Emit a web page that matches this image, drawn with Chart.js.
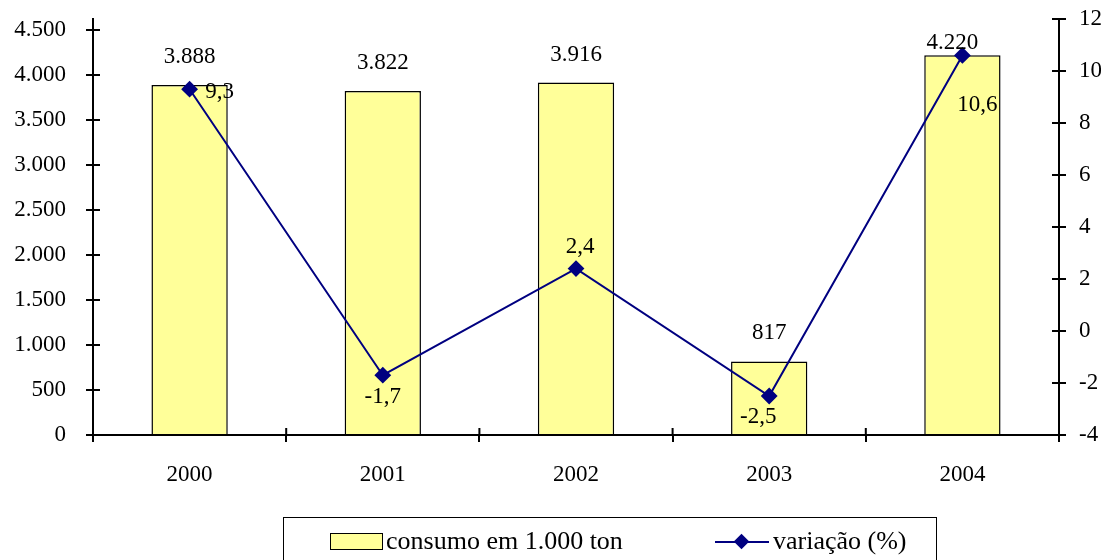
<!DOCTYPE html>
<html lang="pt">
<head>
<meta charset="UTF-8">
<title>Consumo e variação</title>
<script src="https://cdn.jsdelivr.net/npm/chart.js"></script>
<style>
    html, body { margin: 0; padding: 0; background: #fff; overflow: hidden; }
    #wrap { position: relative; width: 1101px; height: 560px; }
    #legend {
        position: absolute; left: 283px; top: 517px; width: 652px; height: 60px;
        border: 1.5px solid #000; font-family: "Liberation Serif", serif; font-size: 26px; color: #000;
    }
    #legend .item { position: absolute; top: 9px; height: 28px; line-height: 28px; white-space: nowrap; }
    #legend .swatch { display: inline-block; width: 51px; height: 15px; border: 1.5px solid #000; vertical-align: -1px; margin-right: 3px; }
    #legend .linekey { display: inline-block; position: relative; width: 54px; height: 14px; vertical-align: 0px; margin-right: 4px; }
    #legend .linekey .bar { position: absolute; left: 0; right: 0; top: 6px; height: 2px; }
    #legend .linekey .dot { position: absolute; left: 21px; top: 1px; width: 11px; height: 11px; transform: rotate(45deg); }
</style>
</head>
<body>
<div id="wrap">
    <canvas id="chart" width="1101" height="560"></canvas>
    <div id="legend"></div>
</div>
<script>
    const years = ["2000", "2001", "2002", "2003", "2004"];
    const consumo = [3888, 3822, 3916, 817, 4220];
    const variacao = [9.3, -1.7, 2.4, -2.5, 10.6];
    const leftTicks = [0, 500, 1000, 1500, 2000, 2500, 3000, 3500, 4000, 4500];

    const FONT = "Liberation Serif";
    const SIZE = 23;

    // label offsets from each mark, in px
    const barLabelOffset = [[0, -28], [0, -28], [0, -28], [0, -29], [-10, -12]];
    const lineLabelOffset = [[30, 3], [0, 22], [4, -22], [-11, 21], [15, 50]];

    function fmt(v) {
        return String(v).replace(/\B(?=(\d{3})+(?!\d))/g, ".");
    }

    const valueLabels = {
        id: "valueLabels",
        afterDatasetsDraw(chart) {
            const ctx = chart.ctx;
            ctx.save();
            ctx.font = SIZE + "px " + FONT;
            ctx.fillStyle = "#000";
            ctx.textAlign = "center";
            ctx.textBaseline = "middle";
            chart.getDatasetMeta(1).data.forEach((el, i) => {
                const o = barLabelOffset[i];
                ctx.fillText(fmt(consumo[i]), el.x + o[0], el.y + o[1]);
            });
            chart.getDatasetMeta(0).data.forEach((el, i) => {
                const o = lineLabelOffset[i];
                ctx.fillText(String(variacao[i]).replace(".", ","), el.x + o[0], el.y + o[1]);
            });
            ctx.restore();
        }
    };

    // tick marks that cross the axis lines
    const crossTicks = {
        id: "crossTicks",
        afterDraw(chart) {
            const { ctx, chartArea: a, scales } = chart;
            const len = 7;
            ctx.save();
            ctx.strokeStyle = "#000";
            ctx.lineWidth = 2;
            ctx.beginPath();
            scales.y.ticks.forEach(t => {
                const y = scales.y.getPixelForValue(t.value);
                ctx.moveTo(a.left, y); ctx.lineTo(a.left + len, y);
            });
            scales.y2.ticks.forEach(t => {
                const y = scales.y2.getPixelForValue(t.value);
                ctx.moveTo(a.right - len, y); ctx.lineTo(a.right, y);
            });
            for (let i = 0; i <= years.length; i++) {
                const x = scales.x.getPixelForValue(i - 0.5);
                ctx.moveTo(x, a.bottom - len); ctx.lineTo(x, a.bottom);
            }
            ctx.stroke();
            ctx.restore();
        }
    };

    const axisGrid = { display: true, drawOnChartArea: false, drawTicks: true, tickLength: 7, color: "#000", lineWidth: 2 };
    const axisBorder = { color: "#000", width: 2 };

    // vertical axes: fixed width, no extra room for the end labels
    function fixWidth(w) {
        return function (s) {
            s.width = w;
            s.paddingTop = 0;
            s.paddingBottom = 0;
        };
    }

    const chart = new Chart(document.getElementById("chart"), {
        data: {
            labels: years,
            datasets: [
                {
                    type: "line",
                    label: "variação (%)",
                    data: variacao,
                    yAxisID: "y2",
                    borderColor: "#000080",
                    backgroundColor: "#000080",
                    borderWidth: 2,
                    pointStyle: "rectRot",
                    pointRadius: 7,
                    pointHoverRadius: 7,
                    tension: 0,
                    order: 0
                },
                {
                    type: "bar",
                    label: "consumo em 1.000 ton",
                    data: consumo,
                    yAxisID: "y",
                    backgroundColor: "#FFFF99",
                    borderColor: "#000",
                    borderWidth: 1.5,
                    barPercentage: 0.395,
                    categoryPercentage: 1,
                    order: 1
                }
            ]
        },
        options: {
            responsive: false,
            animation: false,
            devicePixelRatio: 1,
            layout: { padding: { top: 19, left: 0, right: 0, bottom: 0 } },
            plugins: { legend: { display: false }, tooltip: { enabled: false } },
            scales: {
                x: {
                    grid: { ...axisGrid, offset: true },
                    border: axisBorder,
                    ticks: { color: "#000", font: { family: FONT, size: SIZE }, padding: 19, maxRotation: 0 },
                    afterFit(s) { s.height = 125; s.paddingLeft = 0; s.paddingRight = 0; }
                },
                y: {
                    position: "left",
                    min: 0,
                    max: 4622,
                    grid: axisGrid,
                    border: axisBorder,
                    ticks: { color: "#000", font: { family: FONT, size: SIZE }, padding: 20, callback: v => fmt(v) },
                    afterBuildTicks(s) { s.ticks = leftTicks.map(v => ({ value: v })); },
                    afterFit: fixWidth(93)
                },
                y2: {
                    position: "right",
                    min: -4,
                    max: 12,
                    grid: axisGrid,
                    border: axisBorder,
                    ticks: { color: "#000", font: { family: FONT, size: SIZE }, padding: 13, stepSize: 2 },
                    afterFit: fixWidth(42)
                }
            }
        },
        plugins: [valueLabels, crossTicks]
    });

    // legend box under the chart
    const legend = document.getElementById("legend");
    const barDs = chart.data.datasets[1];
    const lineDs = chart.data.datasets[0];
    legend.innerHTML =
        '<span class="item" style="left:46px"><span class="swatch" style="background:' + barDs.backgroundColor + '"></span>' + barDs.label + '</span>' +
        '<span class="item" style="left:431px"><span class="linekey"><span class="bar" style="background:' + lineDs.borderColor + '"></span>' +
        '<span class="dot" style="background:' + lineDs.borderColor + '"></span></span>' + lineDs.label + '</span>';
</script>
</body>
</html>
